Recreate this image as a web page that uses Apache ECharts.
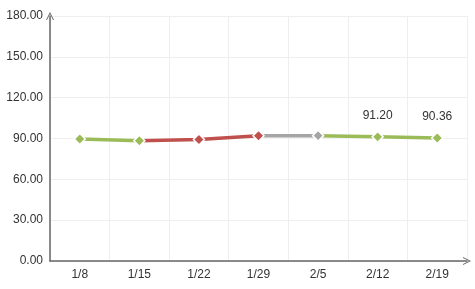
<!DOCTYPE html>
<html><head><meta charset="utf-8">
<script src="https://cdn.jsdelivr.net/npm/echarts@6/dist/echarts.min.js"></script>
<style>html,body{margin:0;padding:0;background:#fff}#c{width:475px;height:289px}</style>
</head><body><div id="c"></div>
<script>
const categories = ['1/8','1/15','1/22','1/29','2/5','2/12','2/19'];
const values = [89.6, 88.3, 89.2, 92.0, 92.1, 91.20, 90.36];
const labeledIndices = [5, 6];
const yTicks = {min: 0, max: 180, interval: 30};

const GREEN = '#9bbb59', RED = '#c0504d', GRAY = '#a5a5a5';
const arrow = 'path://M0,10 L5,0 L10,10 L8.8,10 L5,2.4 L1.2,10 Z';

const chart = echarts.init(document.getElementById('c'), null, {renderer: 'canvas'});
chart.setOption({
  animation: false,
  grid: {left: 50, right: 8, top: 16, bottom: 28, containLabel: false},
  xAxis: {
    type: 'category', data: categories, boundaryGap: true,
    axisLine: {show: true, symbol: ['none', arrow], symbolSize: [10, 8], symbolOffset: [0, 0],
      lineStyle: {color: '#666', width: 1.5}},
    axisTick: {show: false},
    axisLabel: {color: '#333', fontSize: 12, fontFamily: 'Arial, Liberation Sans', margin: 8},
    splitLine: {show: true, lineStyle: {color: '#eeeeee', width: 1}}
  },
  yAxis: {
    type: 'value', min: yTicks.min, max: yTicks.max, interval: yTicks.interval,
    axisLine: {show: true, symbol: ['none', arrow], symbolSize: [10, 8],
      lineStyle: {color: '#666', width: 1.5}},
    axisTick: {show: false},
    axisLabel: {color: '#333', fontSize: 12, fontFamily: 'Arial, Liberation Sans', margin: 7,
      formatter: v => v.toFixed(2)},
    splitLine: {show: true, lineStyle: {color: '#eeeeee', width: 1}}
  },
  visualMap: {
    show: false, type: 'piecewise', dimension: 0, seriesIndex: 0,
    pieces: [
      {lte: 1, color: GREEN},
      {gt: 1, lte: 3, color: RED},
      {gt: 3, lte: 4, color: GRAY},
      {gt: 4, color: GREEN}
    ]
  },
  series: [{
    type: 'line', data: values.map((v, i) => ({
      value: v,
      label: {show: labeledIndices.includes(i)}
    })),
    symbol: 'diamond', symbolSize: 11, showSymbol: true,
    lineStyle: {width: 3.5, shadowColor: 'rgba(255,255,255,1)', shadowBlur: 2},
    itemStyle: {borderColor: '#fff', borderWidth: 1.5},
    label: {position: 'top', distance: 9, color: '#333', fontSize: 12,
      fontFamily: 'Arial, Liberation Sans', formatter: p => p.value.toFixed(2)}
  }]
});
</script></body></html>
